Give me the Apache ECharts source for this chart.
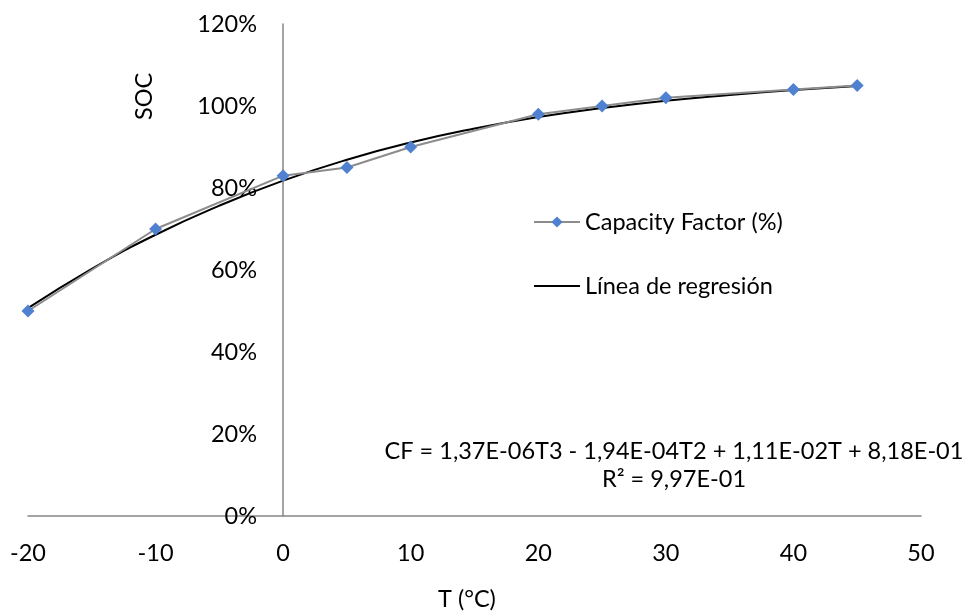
<!DOCTYPE html>
<html><head><meta charset="utf-8">
<script src="https://cdn.jsdelivr.net/npm/echarts@6/dist/echarts.min.js"></script>
<style>html,body{margin:0;padding:0;background:#fff}#c{width:967px;height:616px}</style>
</head><body><div id="c"></div>
<script>
var temps = [-20, -10, 0, 5, 10, 20, 25, 30, 40, 45];
var capacityFactor = [0.50, 0.70, 0.83, 0.85, 0.90, 0.98, 1.00, 1.02, 1.04, 1.05];
var regT = [-20, -15, -10, -5, 0, 5, 10, 15, 20, 25, 30, 35, 40, 45];
var regValues = [0.507, 0.603, 0.686, 0.757, 0.818, 0.869, 0.911, 0.945, 0.973, 0.995, 1.013, 1.027, 1.039, 1.049];
var equationLines = ["CF = 1,37E-06T3 - 1,94E-04T2 + 1,11E-02T + 8,18E-01", "R² = 9,97E-01"];
var FONT = "Lato";
var FS = 23.5;
var chart = echarts.init(document.getElementById('c'));
chart.setOption({
  animation: false,
  grid: {left: 28, right: 46, top: 24, bottom: 100, containLabel: false, outerBoundsMode: 'none'},
  xAxis: {
    type: 'value', min: -20, max: 50, interval: 10,
    axisLine: {show: true, onZero: false, lineStyle: {color: '#868686', width: 1.5}},
    axisTick: {show: false}, splitLine: {show: false},
    axisLabel: {color: '#000', fontFamily: FONT, fontSize: FS, margin: 25}
  },
  yAxis: {
    type: 'value', min: 0, max: 1.2, interval: 0.2, offset: -255,
    axisLine: {show: true, onZero: false, lineStyle: {color: '#868686', width: 1.5}},
    axisTick: {show: false}, splitLine: {show: false},
    axisLabel: {color: '#000', fontFamily: FONT, fontSize: FS, margin: 26,
      formatter: function (v) { return Math.round(v * 100) + '%'; }}
  },
  legend: {
    orient: 'vertical', left: 528, top: 205, itemGap: 40, itemWidth: 46, itemHeight: 14,
    textStyle: {fontFamily: FONT, fontSize: FS, color: '#000'},
    data: [
      {name: 'Capacity Factor (%)'},
      {name: 'Línea de regresión', itemStyle: {opacity: 0}}
    ]
  },
  graphic: [
    {type: 'text', left: 438, top: 587, style: {text: 'T (°C)', fontFamily: FONT, fontSize: FS, fill: '#000'}},
    {type: 'text', x: 144, y: 120, rotation: Math.PI / 2, style: {text: 'SOC', fontFamily: FONT, fontSize: FS, fill: '#000', textAlign: 'left', textVerticalAlign: 'middle'}},
    {type: 'text', x: 674, y: 437, style: {text: equationLines.join('\n'), fontFamily: FONT, fontSize: FS, lineHeight: 28, fill: '#000', textAlign: 'center'}}
  ],
  series: [
    {
      name: 'Capacity Factor (%)', type: 'line',
      data: temps.map(function (t, i) { return [t, capacityFactor[i]]; }),
      symbol: 'diamond', symbolSize: 13,
      lineStyle: {color: '#8c8c8c', width: 2},
      itemStyle: {color: '#4F81D0'}, z: 3
    },
    {
      name: 'Línea de regresión', type: 'line', smooth: true,
      data: regT.map(function (t, i) { return [t, regValues[i]]; }),
      symbol: 'none',
      lineStyle: {color: '#000', width: 2},
      itemStyle: {color: '#000'}, z: 2
    }
  ]
});
</script></body></html>
